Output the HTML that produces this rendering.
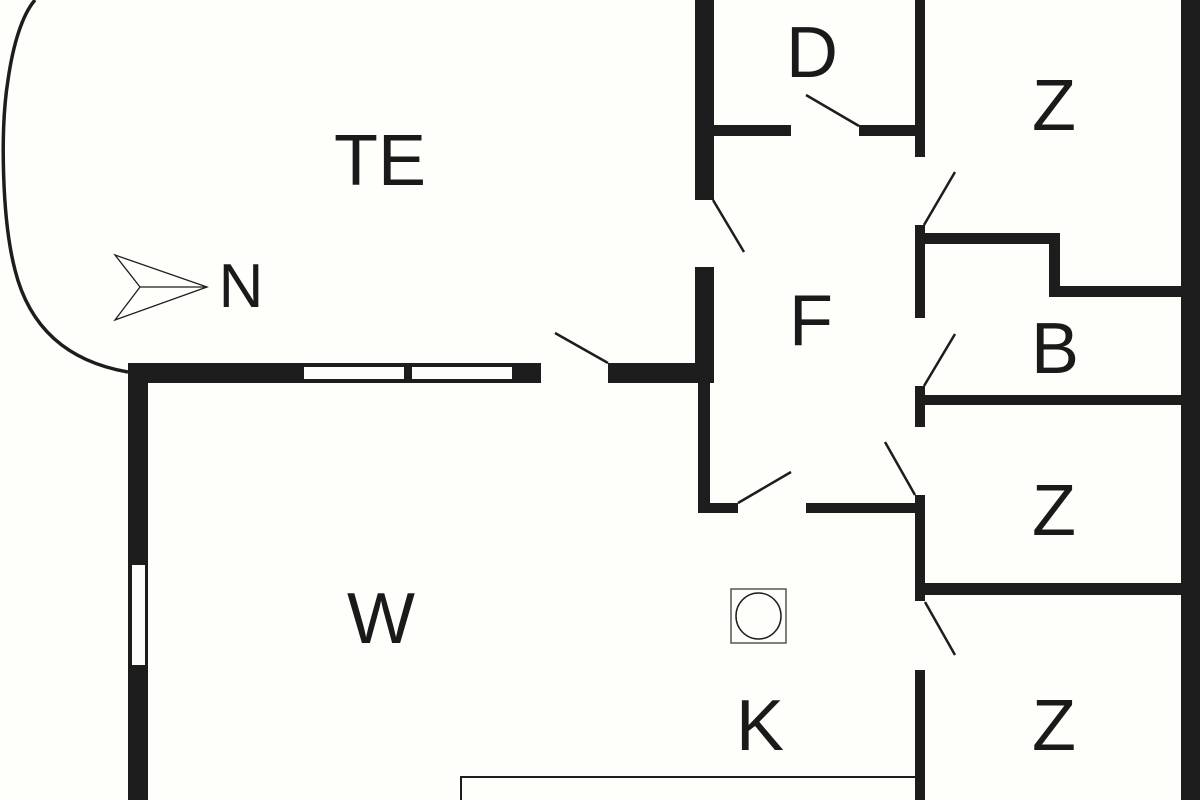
<!DOCTYPE html>
<html><head><meta charset="utf-8"><style>
html,body{margin:0;padding:0;background:#fefefb;}
svg{display:block}
text{font-family:"Liberation Sans",sans-serif;font-size:72px;fill:#1a1a1a;text-anchor:middle}
</style></head><body>
<svg width="1200" height="800" viewBox="0 0 1200 800">
<rect width="1200" height="800" fill="#fefefb"/>
<g fill="#1d1d1d">
<rect x="1181" y="0" width="19" height="800"/>
<rect x="695" y="0" width="19" height="200"/>
<rect x="695" y="267" width="19" height="116"/>
<rect x="714" y="125" width="77" height="11"/>
<rect x="859" y="125" width="66" height="11"/>
<rect x="915" y="0" width="10" height="157"/>
<rect x="915" y="225" width="10" height="93"/>
<rect x="915" y="386" width="10" height="41"/>
<rect x="915" y="495" width="10" height="106"/>
<rect x="915" y="670" width="10" height="130"/>
<rect x="925" y="233" width="135" height="11"/>
<rect x="1049" y="233" width="11" height="64"/>
<rect x="1049" y="286" width="132" height="11"/>
<rect x="925" y="395" width="256" height="10"/>
<rect x="925" y="583" width="256" height="12"/>
<rect x="698" y="383" width="12" height="130"/>
<rect x="698" y="503" width="40" height="10"/>
<rect x="806" y="503" width="109" height="10"/>
<rect x="128" y="363" width="413" height="20"/>
<rect x="608" y="363" width="106" height="20"/>
<rect x="128" y="363" width="20" height="437"/>
</g>
<g fill="#fefefb">
<rect x="304" y="367" width="100" height="12"/>
<rect x="412" y="367" width="100" height="12"/>
<rect x="132" y="565" width="13" height="100"/>
</g>
<g stroke="#1d1d1d" stroke-width="2.5" fill="none">
<line x1="806" y1="95" x2="859" y2="126"/>
<line x1="924" y1="225" x2="955" y2="172"/>
<line x1="713" y1="200" x2="744" y2="252"/>
<line x1="924" y1="386" x2="955" y2="334"/>
<line x1="738" y1="503" x2="791" y2="472"/>
<line x1="885" y1="442" x2="915" y2="495"/>
<line x1="925" y1="602" x2="955" y2="655"/>
<line x1="555" y1="333" x2="608" y2="363"/>
</g>
<path d="M128,372 C70,362 30,330 15,270 C2,220 0,130 8,80 C13,45 22,15 35,0" stroke="#1d1d1d" stroke-width="3.5" fill="none"/>
<polygon points="115,255 207,287 115,320 140,287" fill="none" stroke="#1d1d1d" stroke-width="1.3"/>
<line x1="140" y1="287" x2="207" y2="287" stroke="#1d1d1d" stroke-width="1.3"/>
<text x="241" y="307" style="font-size:62px">N</text>
<rect x="731" y="589" width="55" height="54" fill="none" stroke="#555" stroke-width="1.5"/>
<ellipse cx="758.5" cy="616" rx="22.5" ry="23" fill="none" stroke="#1d1d1d" stroke-width="1.5"/>
<path d="M461,800 V777 H915" stroke="#1d1d1d" stroke-width="2" fill="none"/>
<text x="380" y="185">TE</text>
<text x="812" y="77">D</text>
<text x="1054" y="130">Z</text>
<text x="811" y="345">F</text>
<text x="1055" y="373">B</text>
<text x="1054" y="535">Z</text>
<text x="381" y="643">W</text>
<text x="760" y="750">K</text>
<text x="1054" y="750">Z</text>
</svg>
</body></html>
